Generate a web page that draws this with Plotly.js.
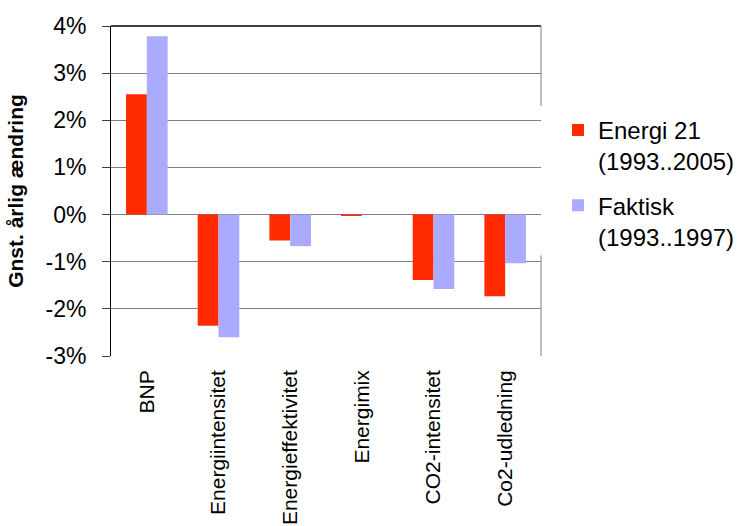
<!DOCTYPE html>
<html>
<head>
<meta charset="utf-8">
<script src="https://cdn.plot.ly/plotly-3.0.1.min.js"></script>
<style>html,body{margin:0;padding:0;background:#fff;}#chart{width:747px;height:526px;}</style>
</head>
<body>
<div id="chart"></div>
<script>
var categories = ['BNP', 'Energiintensitet', 'Energieffektivitet', 'Energimix', 'CO2-intensitet', 'Co2-udledning'];
var energi21 = [2.55, -2.36, -0.55, -0.03, -1.39, -1.73];
var faktisk = [3.78, -2.60, -0.67, 0, -1.58, -1.03];
var seriesNames = ['Energi 21<br>(1993..2005)', 'Faktisk<br>(1993..1997)'];
var yTickVals = [-3, -2, -1, 0, 1, 2, 3, 4];
var yTickText = ['-3%', '-2%', '-1%', '0%', '1%', '2%', '3%', '4%'];
var yTitle = 'Gnst. årlig ændring';

var FONT = 'Liberation Sans, Arial, sans-serif';
var boundaries = [];
for (var i = 0; i <= categories.length; i++) boundaries.push(i - 0.5);

var traces = [
  {type: 'bar', x: categories, y: energi21, name: seriesNames[0], legendgroup: 'g1', marker: {color: '#ff2a00'}},
  {type: 'bar', x: categories, y: faktisk, name: seriesNames[1], legendgroup: 'g2', marker: {color: '#aaaaff'}}
];

var layout = {
  width: 747, height: 526,
  margin: {l: 111, r: 206, t: 26, b: 170, pad: 0},
  paper_bgcolor: '#ffffff', plot_bgcolor: '#ffffff',
  barmode: 'group', bargap: 0.42, bargroupgap: 0,
  font: {family: FONT, color: '#000000', size: 21},
  showlegend: true,
  legend: {xref: 'container', yref: 'container', x: 0.747, xanchor: 'left', y: 0.795, yanchor: 'top', valign: 'top',
           font: {family: FONT, size: 24, color: '#000'}, bgcolor: 'rgba(0,0,0,0)',
           tracegroupgap: 10, traceorder: 'grouped'},
  xaxis: {
    type: 'category', range: [-0.5, 5.5], automargin: false,
    showgrid: false, zeroline: false, showline: false, ticks: '',
    tickangle: -90, tickfont: {family: FONT, size: 21, color: '#000'},
    ticklabelstandoff: 9
  },
  xaxis2: {
    overlaying: 'x', anchor: 'free', position: 3 / 7, range: [-0.5, 5.5],
    tickmode: 'array', tickvals: boundaries, showticklabels: false,
    ticks: 'outside', ticklen: 6, tickcolor: '#404040', tickwidth: 1,
    showline: false, showgrid: false, zeroline: false
  },
  yaxis: {
    range: [-3, 4], automargin: false, tickmode: 'array',
    tickvals: yTickVals, ticktext: yTickText,
    tickfont: {family: FONT, size: 23, color: '#000'},
    ticks: 'outside', ticklen: 8, tickcolor: '#404040', tickwidth: 1,
    showgrid: true, gridcolor: '#808080', gridwidth: 1,
    zeroline: true, zerolinecolor: '#808080', zerolinewidth: 1,
    showline: true, linecolor: '#000000', linewidth: 1,
    ticklabelstandoff: 11,
    title: {text: yTitle, font: {family: FONT, size: 21, color: '#000', weight: 'bold'}, standoff: 16}
  },
  shapes: [
    {type: 'line', xref: 'paper', yref: 'paper', x0: 0, x1: 1, y0: 1, y1: 1, line: {color: '#000', width: 1.5}},
    {type: 'line', xref: 'paper', yref: 'paper', x0: 1, x1: 1, y0: 0.758, y1: 1, line: {color: '#808080', width: 1}},
    {type: 'line', xref: 'paper', yref: 'paper', x0: 1, x1: 1, y0: 0, y1: 0.305, line: {color: '#808080', width: 1}}
  ]
};

Plotly.newPlot('chart', traces, layout, {staticPlot: true, displayModeBar: false});
</script>
</body>
</html>
